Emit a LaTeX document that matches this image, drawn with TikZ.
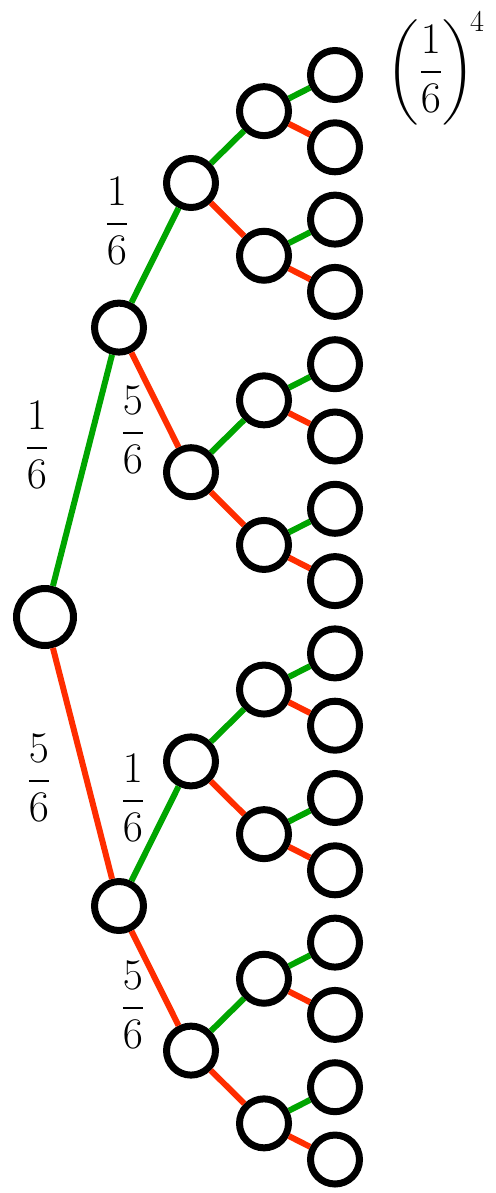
\documentclass[tikz,border=0pt]{standalone}
\usepackage{amsmath, amssymb}
\usepackage{xcolor}
\usepackage{tikz}
\usetikzlibrary{positioning, calc}
\definecolor{hitgreen}{RGB}{0,165,0}
\definecolor{missred}{RGB}{255,45,0}

\begin{document}
\begin{tikzpicture}[
        x=0.02cm, y=-0.02cm,
        state/.style={draw, circle, line width=0.14cm, fill=white, minimum size=0.98cm, inner sep=0pt},
        root/.style={state, minimum size=1.14cm},
        hit/.style={line width=0.12cm, draw=hitgreen},
        miss/.style={line width=0.12cm, draw=missred},
        prob/.style={font=\fontsize{25}{30}\selectfont, inner sep=0pt}
    ]
    \useasboundingbox (0,0) rectangle (496,1193);

    % Nodes
    \node[root] (s) at (45,617) {};
    \foreach \i in {0,1}
        \node[state] (a\i) at (119, {327.6+578.4*\i}) {};
    \foreach \i in {0,...,3}
        \node[state] (b\i) at (191, {183+289.2*\i}) {};
    \foreach \i in {0,...,7}
        \node[state] (c\i) at (264, {111.15+144.6*\i}) {};
    \foreach \i in {0,...,15}
        \node[state] (d\i) at (335, {75+72.3*\i}) {};

    % Branches
    \draw[hit] (s) -- (a0);
    \draw[miss] (s) -- (a1);
    \foreach \i in {0,1} {
        \pgfmathtruncatemacro{\up}{2*\i}
        \pgfmathtruncatemacro{\dn}{2*\i+1}
        \draw[hit] (a\i) -- (b\up);
        \draw[miss] (a\i) -- (b\dn);
    }
    \foreach \i in {0,...,3} {
        \pgfmathtruncatemacro{\up}{2*\i}
        \pgfmathtruncatemacro{\dn}{2*\i+1}
        \draw[hit] (b\i) -- (c\up);
        \draw[miss] (b\i) -- (c\dn);
    }
    \foreach \i in {0,...,7} {
        \pgfmathtruncatemacro{\up}{2*\i}
        \pgfmathtruncatemacro{\dn}{2*\i+1}
        \draw[hit] (c\i) -- (d\up);
        \draw[miss] (c\i) -- (d\dn);
    }

    % Probabilities
    \node[prob] (ps0) at (37,445) {$\dfrac{1}{6}$};
    \node[prob] (ps1) at (39,778) {$\dfrac{5}{6}$};
    \node[prob] (pa0) at (117,221) {$\dfrac{1}{6}$};
    \node[prob] (pa1) at (133,430) {$\dfrac{5}{6}$};
    \node[prob] (pa2) at (133,798) {$\dfrac{1}{6}$};
    \node[prob] (pa3) at (133,1005) {$\dfrac{5}{6}$};
    \node[prob, anchor=base west] (all) at (386,83) {$\left(\dfrac{1}{6}\right)^{\!4}$};

\end{tikzpicture}
\end{document}
